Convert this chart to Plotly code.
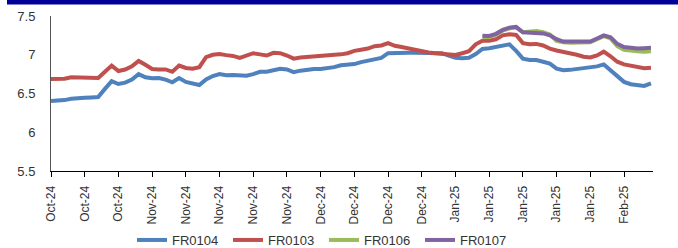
import pandas as pd
import plotly.graph_objects as go

# Categories: business days Oct-2024 .. Feb-2025
dates = list(pd.bdate_range("2024-10-11", periods=90))
categories = [d.strftime("%Y-%m-%d") for d in dates]
tick_idx = list(range(0, 90, 5))
tick_labels = ["Oct-24", "Oct-24", "Oct-24", "Nov-24", "Nov-24", "Nov-24", "Nov-24", "Nov-24",
               "Dec-24", "Dec-24", "Dec-24", "Dec-24", "Jan-25", "Jan-25", "Jan-25", "Jan-25",
               "Jan-25", "Feb-25"]

fr0104 = [6.403, 6.405, 6.415, 6.433, 6.433, 6.445, 6.45, 6.455, 6.56, 6.66,
          6.623, 6.64, 6.68, 6.75, 6.71, 6.696, 6.70, 6.68, 6.645, 6.70,
          6.65, 6.625, 6.61, 6.68, 6.725, 6.75, 6.735, 6.74, 6.735, 6.73,
          6.75, 6.78, 6.78, 6.80, 6.82, 6.81, 6.775, 6.795, 6.81, 6.815,
          6.816, 6.825, 6.84, 6.865, 6.875, 6.88, 6.905, 6.92, 6.945, 6.96,
          7.02, 7.025, 7.02, 7.025, 7.027, 7.025, 7.022, 7.02, 7.02, 6.99,
          6.96, 6.955, 6.96, 7.01, 7.075, 7.085, 7.10, 7.125, 7.135, 7.05,
          6.95, 6.932, 6.932, 6.91, 6.885, 6.82, 6.80, 6.805, 6.815, 6.82,
          6.83, 6.85, 6.875, 6.80, 6.72, 6.65, 6.62, 6.61, 6.598, 6.63]

fr0103 = [6.687, 6.687, 6.69, 6.71, 6.705, 6.70, 6.70, 6.70, 6.78, 6.86,
          6.79, 6.81, 6.85, 6.92, 6.87, 6.816, 6.81, 6.81, 6.78, 6.86,
          6.83, 6.82, 6.84, 6.97, 7.00, 7.01, 6.995, 6.985, 6.96, 6.99,
          7.02, 7.005, 6.99, 7.025, 7.02, 6.99, 6.95, 6.965, 6.97, 6.975,
          6.99, 6.995, 7.00, 7.005, 7.02, 7.05, 7.065, 7.08, 7.11, 7.12,
          7.15, 7.115, 7.10, 7.08, 7.06, 7.04, 7.03, 7.02, 7.01, 7.005,
          6.997, 7.02, 7.045, 7.135, 7.18, 7.18, 7.20, 7.25, 7.264, 7.255,
          7.15, 7.135, 7.14, 7.12, 7.08, 7.055, 7.04, 7.025, 7.00, 6.975,
          6.965, 6.99, 7.04, 6.98, 6.91, 6.875, 6.86, 6.845, 6.825, 6.833]

fr0106 = [None] * 64 + [7.225, 7.23, 7.26, 7.31, 7.34, 7.35, 7.29, 7.30, 7.305, 7.29,
                        7.26, 7.18, 7.16, 7.155, 7.155, 7.155, 7.16, 7.20, 7.24, 7.21,
                        7.11, 7.065, 7.05, 7.045, 7.04, 7.045]

fr0107 = [None] * 64 + [7.245, 7.242, 7.27, 7.32, 7.35, 7.36, 7.29, 7.285, 7.285, 7.275,
                        7.25, 7.20, 7.17, 7.17, 7.17, 7.17, 7.17, 7.21, 7.25, 7.225,
                        7.14, 7.10, 7.085, 7.08, 7.085, 7.09]

series = [("FR0104", fr0104, "#4F81BD"), ("FR0103", fr0103, "#C0504D"),
          ("FR0106", fr0106, "#9BBB59"), ("FR0107", fr0107, "#8064A2")]

fig = go.Figure()
for name, vals, color in series:
    fig.add_trace(go.Scatter(x=categories, y=vals, mode="lines", name=name,
                             line=dict(color=color, width=4), connectgaps=False))

font = "Liberation Sans, Arial, sans-serif"
fig.update_layout(
    width=678, height=248,
    margin=dict(l=51, r=25, t=16, b=77, autoexpand=False),
    paper_bgcolor="white", plot_bgcolor="white",
    font=dict(family=font, size=12, color="#333333"),
    showlegend=True,
    legend=dict(orientation="h", x=324 / 678, xanchor="center", xref="container",
                y=(248 - 240) / 248, yanchor="middle", yref="container",
                font=dict(size=13, color="#333333"), itemwidth=30,
                entrywidth=51, entrywidthmode="pixels",
                traceorder="normal", bgcolor="rgba(0,0,0,0)"),
    xaxis=dict(type="category", range=[0, 89.3], tickmode="array",
               tickvals=[categories[i] for i in tick_idx], ticktext=tick_labels,
               tickangle=-90, ticks="outside", ticklen=5, tickcolor="#000000",
               showline=True, linecolor="#000000", linewidth=1, showgrid=False,
               zeroline=False, automargin=False, ticklabelstandoff=4,
               tickfont=dict(size=12, color="#333333")),
    yaxis=dict(range=[5.5, 7.5], tickmode="array", tickvals=[5.5, 6, 6.5, 7, 7.5],
               ticktext=["5.5", "6", "6.5", "7", "7.5"], showline=True,
               linecolor="#555555", linewidth=1, showgrid=False, zeroline=False,
               ticks="", automargin=False, ticklabelstandoff=12,
               tickfont=dict(size=13, color="#333333")),
    shapes=[dict(type="rect", xref="paper", yref="paper",
                 x0=(7 - 51) / 602, x1=(678 - 51) / 602,
                 y0=1 + (16 - 4.5) / 155, y1=1 + 16 / 155,
                 fillcolor="#000099", line=dict(width=0), layer="above")],
)

fig.write_html("out.html", config={"displayModeBar": False},
               post_script="document.body.style.margin='0';document.body.style.overflow='hidden';")
